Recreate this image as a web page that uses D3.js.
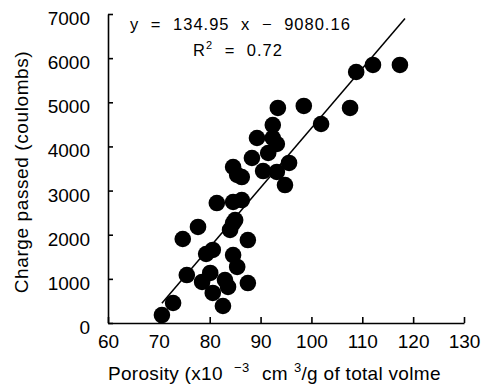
<!DOCTYPE html>
<html>
<head>
<meta charset="utf-8">
<script src="https://cdn.jsdelivr.net/npm/d3@7"></script>
<style>
  body { margin: 0; background: #fff; }
  svg { display: block; font-family: "Liberation Sans", Arial, sans-serif; }
</style>
</head>
<body>
<svg width="488" height="385"></svg>
<script>
// porosity (x10^-3 cm3/g) and charge passed (coulombs)
const porosity = [
  117.4, 112.1, 108.8, 107.6, 101.9, 98.5, 93.4, 92.4, 89.3, 92.4,
  93.2, 91.5, 88.3, 95.6, 90.5, 93.2, 84.6, 85.4, 86.3, 94.8,
  81.4, 84.6, 86.3, 85.0, 84.6, 77.7, 84.0, 87.5, 74.7, 80.6,
  79.3, 84.6, 85.4, 75.5, 80.1, 78.5, 83.0, 83.6, 87.5, 80.6,
  82.6, 72.8, 70.6
];
const charge = [
  5845, 5845, 5686, 4871, 4508, 4916, 4871, 4485, 4191, 4191,
  4055, 3851, 3738, 3625, 3443, 3421, 3534, 3353, 3307, 3126,
  2718, 2741, 2786, 2333, 2265, 2175, 2107, 1880, 1903, 1654,
  1563, 1540, 1269, 1087, 1133, 929, 974, 816, 906, 680,
  385, 453, 181
];
const xTicks = [60, 70, 80, 90, 100, 110, 120, 130];
const yTicks = [0, 1000, 2000, 3000, 4000, 5000, 6000, 7000];
const slope = 134.95, intercept = -9080.16;
const fitRange = [70.6, 118.4];

const svg = d3.select("svg");
const x = d3.scaleLinear().domain([60, 130]).range([108, 464]);
const y = d3.scaleLinear().domain([0, 7000]).range([323, 14]);

const xAxis = svg.append("g")
  .attr("transform", `translate(0,${y(0)})`)
  .call(d3.axisBottom(x).tickValues(xTicks).tickFormat(d3.format("d"))
    .tickSizeInner(-6).tickSizeOuter(0).tickPadding(12));

const yAxis = svg.append("g")
  .attr("transform", `translate(${x(60)},0)`)
  .call(d3.axisLeft(y).tickValues(yTicks).tickFormat(d3.format("d"))
    .tickSizeInner(-5).tickSizeOuter(0).tickPadding(18));

[xAxis, yAxis].forEach(g => {
  g.selectAll("path, line").attr("stroke", "#000").attr("stroke-width", 1.6);
  g.selectAll("text").attr("fill", "#000").style("font-size", "19px");
});
yAxis.selectAll("text").attr("dy", "0.55em");

// points
svg.append("g").selectAll("circle")
  .data(porosity.map((p, i) => [p, charge[i]]))
  .join("circle")
  .attr("cx", d => x(d[0]))
  .attr("cy", d => y(d[1]))
  .attr("r", 8.3)
  .attr("fill", "#000");

// regression line
svg.append("line")
  .attr("x1", x(fitRange[0])).attr("y1", y(slope * fitRange[0] + intercept))
  .attr("x2", x(fitRange[1])).attr("y2", y(slope * fitRange[1] + intercept))
  .attr("stroke", "#000").attr("stroke-width", 1.5);

// equation
svg.append("text")
  .attr("x", 130).attr("y", 30)
  .style("font-size", "16.5px").style("letter-spacing", "1px").style("word-spacing", "6px")
  .text("y = 134.95 x \u2212 9080.16");
const r2 = svg.append("text").attr("x", 193).attr("y", 56)
  .style("font-size", "16.5px").style("letter-spacing", "1px").style("word-spacing", "6px");
r2.append("tspan").text("R");
r2.append("tspan").attr("dy", -7).style("font-size", "11px").text("2");
r2.append("tspan").attr("dy", 7).text(" = 0.72");

// axis titles
svg.append("text")
  .attr("transform", "translate(28,172) rotate(-90)")
  .attr("text-anchor", "middle")
  .style("font-size", "19px").style("letter-spacing", "0.6px")
  .text("Charge passed (coulombs)");

const xl = svg.append("text").attr("x", 108).attr("y", 380).style("font-size", "19px").style("letter-spacing", "0.3px");
xl.append("tspan").text("Porosity (x10");
xl.append("tspan").attr("x", 234).attr("dy", -8).style("font-size", "13px").text("\u22123");
xl.append("tspan").attr("x", 262).attr("dy", 8).text("cm");
xl.append("tspan").attr("x", 294).attr("dy", -8).style("font-size", "13px").text("3");
xl.append("tspan").attr("dy", 8).text("/g of total volme");
</script>
</body>
</html>
